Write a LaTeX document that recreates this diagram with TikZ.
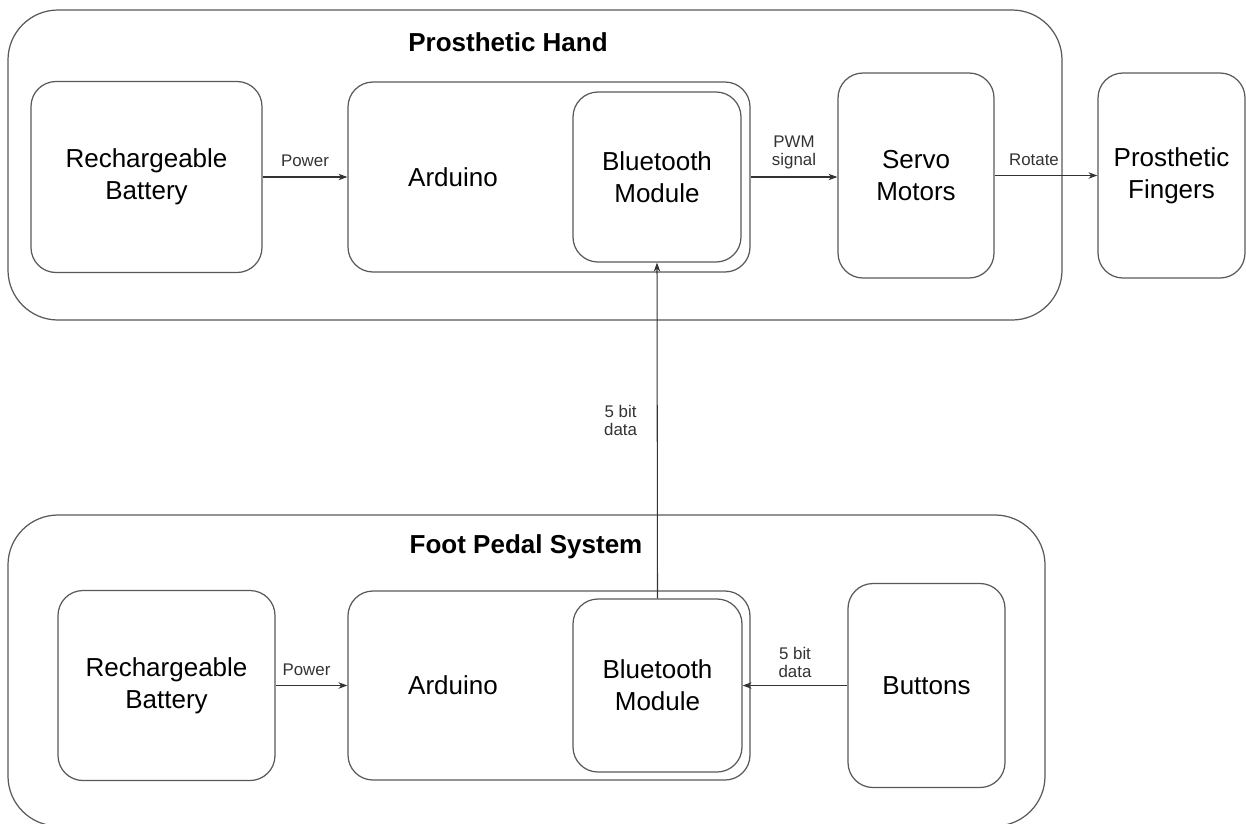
\documentclass[tikz,border=0pt]{standalone}
\usepackage{fontspec}
\setmainfont{Liberation Sans}
\usetikzlibrary{arrows.meta}

\begin{document}
\begin{tikzpicture}[x=0.2mm,y=-0.2mm,
        frame/.style={draw=black!65,line width=0.7pt,rounded corners=10mm,inner sep=0pt},
        block/.style={draw=black!65,line width=0.7pt,rounded corners=5mm,inner sep=0pt,
            align=center,font=\fontsize{14.8}{18}\selectfont},
        conn/.style={-{Stealth[length=1.8mm,width=1.3mm]},draw=black!80,line width=0.6pt},
        lbl/.style={align=center,inner sep=1pt,font=\fontsize{9.6}{10}\selectfont,text=black!80}]

        \useasboundingbox (0,0) rectangle (1246,823);

        % Outer frames
        \node[frame,minimum width=210.8mm,minimum height=62mm] (hand) at (535,165) {};
        \node[frame,minimum width=207.4mm,minimum height=62.2mm] (pedal) at (526.5,670.5) {};
        \node[font=\fontsize{14.8}{18}\selectfont\bfseries] (handtitle) at (508,42) {Prosthetic Hand};
        \node[font=\fontsize{14.8}{18}\selectfont\bfseries] (pedaltitle) at (526,547) {Foot Pedal System};

        % Prosthetic hand blocks
        \node[block,minimum width=46.2mm,minimum height=38.2mm] (topbat) at (146.5,177) {Rechargeable\\Battery};
        \node[block,minimum width=80.4mm,minimum height=38mm] (topard) at (549,177) {};
        \node[font=\fontsize{14.8}{18}\selectfont] (topardtxt) at (453,177) {Arduino};
        \node[block,minimum width=33.6mm,minimum height=34mm] (topbt) at (657,177) {Bluetooth\\Module};
        \node[block,minimum width=31.2mm,minimum height=41mm] (servo) at (916,175.5) {Servo\\Motors};
        \node[block,minimum width=29.4mm,minimum height=41mm] (fingers) at (1171.5,175.5) {Prosthetic\\Fingers};

        % Foot pedal blocks
        \node[block,minimum width=43.4mm,minimum height=38mm] (botbat) at (166.5,685.5) {Rechargeable\\Battery};
        \node[block,minimum width=80.4mm,minimum height=37.8mm] (botard) at (549,685.5) {};
        \node[font=\fontsize{14.8}{18}\selectfont] (botardtxt) at (453,685) {Arduino};
        \node[block,minimum width=33.8mm,minimum height=34.6mm] (botbt) at (657.5,685.5) {Bluetooth\\Module};
        \node[block,minimum width=31.4mm,minimum height=40.8mm] (buttons) at (926.5,685.5) {Buttons};

        % Arrows
        \draw[conn] (topbat.east) -- node[lbl,above=1.6mm] (pwrtop) {Power} (topard.west);
        \draw[conn] (topard.east) -- node[lbl,above=1.2mm] (pwm) {PWM\\signal} (servo.west |- topard.east);
        \draw[conn] (servo.east) -- node[lbl,above=1.6mm,xshift=-2.4mm] (rot) {Rotate} (fingers.west);
        \draw[conn] (botbt.north) -- node[lbl,left=3.6mm,pos=0.53] (bitsup) {5 bit\\data} (topbt.south);
        \draw[conn] (botbat.east) -- node[lbl,above=1.6mm,xshift=-1mm] (pwrbot) {Power} (botard.west);
        \draw[conn] (buttons.west) -- node[lbl,above=1.2mm] (bitsin) {5 bit\\data} (botbt.east);

    \end{tikzpicture}
\end{document}
